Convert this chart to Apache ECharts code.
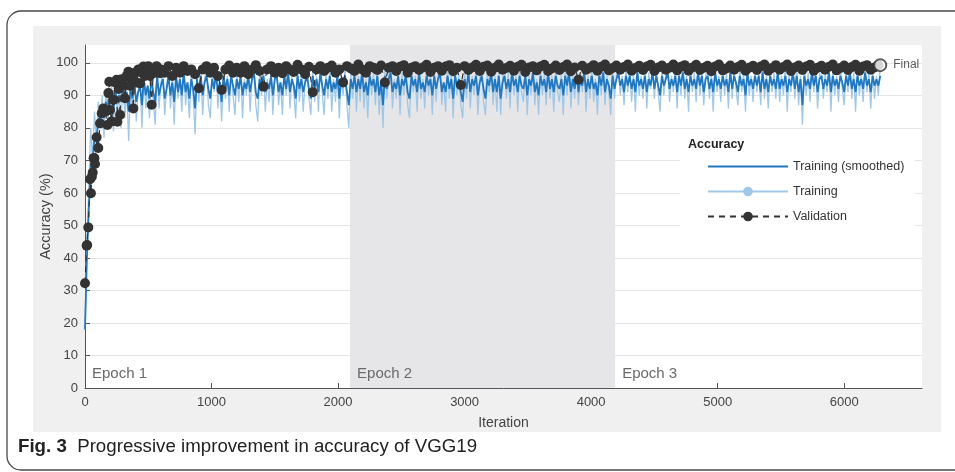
<!DOCTYPE html>
<html><head><meta charset="utf-8">
<script src="https://cdn.jsdelivr.net/npm/echarts@6/dist/echarts.min.js"></script>
<style>html,body{margin:0;padding:0;background:#fff}#c{width:955px;height:472px}</style>
</head><body><div id="c"></div>
<script>
// ---- data ----
const epochBounds = [0, 2095, 4190, 6285];
const epochLabels = ['Epoch 1', 'Epoch 2', 'Epoch 3'];
const xTicks = [0, 1000, 2000, 3000, 4000, 5000, 6000];
const yTicks = [0, 10, 20, 30, 40, 50, 60, 70, 80, 90, 100];
const trainStep = 15; // iterations between stored training samples

const trainAcc = [
  18, 45, 62, 80, 70, 85, 76, 88, 80, 90, 77, 92, 82, 89, 93, 79, 95, 84, 91, 80,
  96, 83, 92, 76, 94, 85, 97, 82, 91, 95, 80, 98, 86, 93, 83, 97, 88, 81, 99, 86,
  94, 97, 84, 92, 99, 86, 95, 81, 98, 89, 96, 85, 100, 87, 94, 83, 97, 90, 78, 96,
  88, 98, 84, 95, 99, 87, 83, 97, 91, 100, 86, 95, 82, 98, 89, 96, 85, 99, 90, 84,
  97, 88, 99, 83, 95, 90, 98, 85, 96, 100, 87, 82, 97, 90, 99, 85, 95, 88, 98, 84,
  96, 99, 87, 94, 84, 98, 90, 100, 86, 96, 91, 83, 99, 88, 97, 85, 95, 99, 89, 84,
  98, 88, 96, 85, 100, 91, 84, 97, 89, 99, 85, 95, 88, 98, 83, 96, 90, 99, 87, 80,
  97, 89, 99, 85, 96, 88, 100, 86, 95, 83, 98, 90, 97, 87, 99, 84, 94, 80, 98, 89,
  96, 100, 86, 95, 89, 98, 84, 97, 90, 99, 87, 83, 98, 91, 96, 85, 100, 89, 95, 86,
  99, 90, 97, 84, 98, 88, 96, 100, 87, 94, 85, 99, 89, 97, 83, 98, 90, 96, 87, 83,
  97, 89, 100, 86, 96, 90, 98, 84, 95, 99, 88, 84, 97, 91, 100, 87, 96, 85, 98, 84,
  95, 99, 89, 97, 86, 100, 90, 96, 85, 98, 91, 88, 99, 84, 96, 90, 100, 87, 95, 84,
  98, 90, 97, 87, 100, 89, 96, 85, 99, 91, 88, 97, 84, 98, 90, 100, 86, 96, 89, 99,
  87, 97, 91, 100, 85, 96, 89, 99, 88, 95, 84, 98, 90, 100, 87, 96, 91, 84, 99, 89,
  97, 100, 90, 96, 87, 99, 91, 98, 88, 97, 85, 100, 90, 96, 89, 99, 86, 97, 92, 100,
  89, 98, 91, 85, 99, 90, 97, 100, 88, 96, 91, 99, 86, 98, 90, 100, 89, 96, 85, 99,
  91, 97, 88, 100, 90, 98, 87, 96, 99, 89, 97, 85, 100, 91, 96, 88, 99, 90, 97, 86,
  100, 89, 98, 92, 87, 99, 91, 97, 85, 100, 90, 96, 88, 99, 91, 98, 87, 100, 89, 96,
  86, 99, 91, 97, 89, 100, 88, 96, 90, 99, 85, 97, 91, 100, 89, 98, 87, 96, 81, 99,
  90, 97, 88, 100, 91, 98, 86, 96, 99, 89, 97, 91, 100, 85, 98, 90, 96, 88, 99, 92,
  87, 98, 91, 100, 89, 97, 85, 99, 90, 96, 88, 100, 91, 97, 86, 98, 89, 96, 90, 99
];

const smoothAcc = [
  18, 40, 55, 68, 70, 77, 76, 82, 82, 86, 83, 88, 86, 88, 90, 86, 91, 89, 90, 88,
  92, 88, 91, 85, 92, 89, 94, 88, 91, 93, 87, 95, 90, 93, 89, 95, 91, 88, 96, 90,
  93, 95, 89, 92, 96, 90, 94, 88, 96, 91, 95, 90, 97, 91, 94, 89, 95, 92, 86, 95,
  91, 96, 90, 94, 96, 92, 89, 95, 92, 97, 91, 94, 88, 96, 92, 95, 90, 96, 93, 90,
  95, 92, 96, 90, 94, 92, 96, 91, 95, 97, 91, 89, 95, 93, 96, 91, 94, 92, 96, 90,
  95, 96, 91, 94, 90, 96, 92, 97, 91, 95, 93, 89, 96, 92, 95, 91, 94, 96, 92, 89,
  96, 92, 95, 91, 97, 93, 90, 95, 92, 96, 91, 94, 92, 96, 89, 95, 93, 96, 91, 87,
  95, 92, 96, 91, 95, 92, 97, 91, 94, 90, 96, 93, 95, 91, 96, 90, 94, 87, 96, 92,
  95, 97, 91, 94, 92, 96, 90, 95, 93, 96, 91, 89, 96, 93, 95, 91, 97, 92, 94, 91,
  96, 93, 95, 90, 96, 92, 95, 97, 91, 94, 91, 96, 92, 95, 89, 96, 93, 95, 91, 88,
  95, 92, 97, 91, 95, 93, 96, 90, 94, 96, 92, 89, 95, 93, 97, 91, 95, 91, 96, 89,
  94, 96, 92, 95, 91, 97, 93, 95, 91, 96, 93, 92, 96, 90, 95, 93, 97, 91, 94, 90,
  96, 93, 95, 91, 97, 92, 95, 91, 96, 93, 92, 95, 90, 96, 93, 97, 91, 95, 92, 96,
  91, 95, 93, 97, 91, 95, 92, 96, 92, 94, 90, 96, 93, 97, 91, 95, 93, 89, 96, 92,
  95, 97, 93, 95, 91, 96, 93, 96, 92, 95, 91, 97, 93, 95, 92, 96, 91, 95, 93, 97,
  92, 96, 93, 90, 96, 93, 95, 97, 92, 95, 93, 96, 91, 96, 93, 97, 92, 95, 91, 96,
  93, 95, 92, 97, 93, 96, 91, 95, 96, 92, 95, 91, 97, 93, 95, 92, 96, 93, 95, 91,
  97, 92, 96, 94, 91, 96, 93, 95, 90, 97, 93, 95, 92, 96, 93, 96, 91, 97, 92, 95,
  91, 96, 93, 95, 92, 97, 92, 95, 93, 96, 91, 95, 93, 97, 92, 96, 91, 95, 87, 96,
  93, 95, 92, 97, 93, 96, 91, 95, 96, 92, 95, 93, 97, 91, 96, 93, 95, 92, 96, 94,
  91, 96, 93, 97, 92, 95, 91, 96, 93, 95, 92, 97, 93, 95, 91, 96, 93, 95, 93, 96
];

const valEarlyIter = [
  0, 13, 17, 26, 40, 47, 54, 61, 68, 74, 79, 92, 105, 119, 132, 145, 160, 177, 185, 192,
  198, 210, 224, 237, 250, 256, 266, 277, 290, 303, 316, 330, 343, 356, 369, 382, 395, 408, 422, 435,
  448, 461, 474, 487, 500, 513, 527, 540, 553, 566, 580, 593
];
const valEarlyAcc = [
  32.2, 43.8, 44, 49.4, 64.2, 59.9, 65, 66.3, 70.7, 70.7, 68.9, 77.1, 73.8, 81.4, 84.5, 86, 85, 80.9, 90.7, 94.2,
  85.5, 82, 88.6, 94, 94.8, 81.9, 92, 84, 95, 93, 89.1, 96, 97.3, 93, 95, 86, 97, 94, 98, 93.7,
  97, 98.9, 96, 98, 99, 96, 87.1, 98, 97, 99, 98, 96.8
];
const valLateStart = 600, valLateStep = 30;
const valLateAcc = [
  98, 97, 99, 96, 98.5, 97, 99, 97.5, 98, 96.5, 92.2, 98, 99, 97, 98.5, 96, 91.7, 98, 99.2, 97,
  98.5, 97, 99, 96.5, 98, 99.3, 97.5, 92.7, 98, 99, 97, 98.5, 96.8, 99, 98, 97.2, 99.4, 98, 96.5, 98.8,
  91, 98, 99, 97.5, 98.5, 99.2, 97, 98, 94, 99, 98.3, 97.5, 99.5, 98, 97, 99, 98.5, 97.8, 99.2, 94,
  98.5, 99, 97.5, 98.8, 99.3, 97, 98.5, 99, 97.8, 98.6, 99.4, 97.2, 98.5, 99, 97.6, 98.9, 99.3, 97.4, 98.5, 93.2,
  99, 97.8, 98.6, 99.4, 97.5, 98.8, 99.2, 97.3, 98.5, 99.5, 97.9, 98.4, 99.1, 97.6, 98.8, 99.4, 97.2, 98.6, 99, 97.7,
  98.9, 99.4, 97.5, 98.3, 99.2, 97.8, 98.7, 99.5, 97.4, 98.6, 94.8, 99.1, 97.9, 98.5, 99.3, 97.6, 98.8, 99.5, 97.7, 98.4,
  99.2, 97.9, 98.7, 99.5, 97.6, 98.4, 99.1, 97.8, 98.9, 99.4, 97.5, 98.6, 99.2, 97.9, 98.5, 99.5, 97.7, 98.8, 99.3, 97.6,
  98.6, 99.4, 97.8, 98.5, 99.1, 97.4, 98.9, 99.5, 97.7, 98.3, 99.2, 97.9, 98.7, 99.4, 97.6, 98.5, 99.1, 97.8, 98.9, 99.5,
  97.6, 98.4, 99.3, 97.9, 98.7, 99.5, 97.5, 98.6, 99.2, 97.8, 98.9, 99.4, 97.6, 98.5, 99.1, 97.9, 98.8, 99.5, 97.7, 98.4,
  99.2, 97.8, 98.7, 99.4, 97.6, 98.9, 99.3, 97.9, 98.6, 99.3
];
const finalPoint = [6285, 99.3];

// ---- build series data ----
const trainData = trainAcc.map((v, i) => [i * trainStep, v]);
const smoothData = smoothAcc.map((v, i) => [i * trainStep, v]);
const valData = valEarlyIter.map((it, i) => [it, valEarlyAcc[i]])
  .concat(valLateAcc.map((v, i) => [valLateStart + i * valLateStep, v]));

const FONT = 'Liberation Sans, Arial, Helvetica, sans-serif';
const epochAreas = epochLabels.map((lab, i) => [
  { xAxis: epochBounds[i], name: lab,
    itemStyle: { color: i === 1 ? '#e6e6e8' : 'rgba(0,0,0,0)' },
    label: { show: true, formatter: lab } },
  { xAxis: epochBounds[i + 1] }
]);

const chart = echarts.init(document.getElementById('c'), null, { renderer: 'canvas' });
chart.setOption({
  animation: false,
  textStyle: { fontFamily: FONT },
  title: {
    text: 'Accuracy', left: 688, top: 138, padding: 0,
    textStyle: { fontSize: 12.5, fontWeight: 'bold', color: '#222', fontFamily: FONT }
  },
  legend: {
    orient: 'vertical', left: 680, top: 130,
    backgroundColor: '#ffffff', padding: [30, 10, 9, 27],
    itemWidth: 80, itemHeight: 12, itemGap: 12,
    selectedMode: false,
    textStyle: { fontSize: 12.5, color: '#333', fontFamily: FONT },
    data: [
      { name: 'Training (smoothed)', icon: 'path://M0,0H80V2H0Z' },
      'Training', 'Validation'
    ]
  },
  grid: {
    left: 85, right: 33, top: 45, bottom: 84,
    show: true, backgroundColor: '#ffffff', borderWidth: 0
  },
  xAxis: {
    type: 'value', min: 0, max: 6615, interval: 1000,
    name: 'Iteration', nameLocation: 'middle', nameGap: 28,
    nameTextStyle: { fontSize: 14, color: '#444', fontFamily: FONT },
    axisLine: { show: true, lineStyle: { color: '#555', width: 1 } },
    axisTick: { show: true, inside: true, length: 5, lineStyle: { color: '#555' }, customValues: xTicks },
    axisLabel: { fontSize: 13, color: '#444', margin: 8, customValues: xTicks, fontFamily: FONT,
      formatter: v => String(v) },
    splitLine: { show: false }
  },
  yAxis: {
    type: 'value', min: 0, max: 105.5, interval: 10,
    name: 'Accuracy (%)', nameLocation: 'middle', nameGap: 32, nameMoveOverlap: false,
    nameTextStyle: { fontSize: 14.5, color: '#444', fontFamily: FONT },
    axisLine: { show: true, lineStyle: { color: '#555', width: 1 } },
    axisTick: { show: true, inside: true, length: 5, lineStyle: { color: '#555' }, customValues: yTicks },
    axisLabel: { fontSize: 13, color: '#444', margin: 7, customValues: yTicks, fontFamily: FONT,
      formatter: v => String(v) },
    splitLine: { show: true, lineStyle: { color: yTicks.map(() => '#e4e4e4').concat(['rgba(0,0,0,0)']), width: 1 } }
  },
  graphic: [
    { type: 'rect', z: -100, silent: true, shape: { x: 33, y: 26, width: 908, height: 406 }, style: { fill: '#f0f0f0' } },
    { type: 'rect', z: 100, silent: true, shape: { x: 7, y: 11, width: 1000, height: 459, r: 14 },
      style: { fill: 'none', stroke: '#4a4a4a', lineWidth: 1.3 } },
    { type: 'text', z: 100, left: 18, top: 437, silent: true,
      style: { text: '{b|Fig. 3}  Progressive improvement in accuracy of VGG19',
        fontSize: 18.7, fill: '#222', fontFamily: FONT,
        rich: { b: { fontWeight: 'bold', fontSize: 18.7, fill: '#222', fontFamily: FONT } } } }
  ],
  series: [
    {
      name: 'epochs', type: 'line', data: [], z: 0, silent: true,
      markArea: {
        silent: true,
        label: { show: true, position: 'insideBottomLeft', distance: 7, fontSize: 15, color: '#6a6a6a', fontFamily: FONT },
        data: epochAreas
      }
    },
    {
      name: 'Training', type: 'line', data: trainData, z: 2,
      symbol: 'circle', showSymbol: false,
      itemStyle: { color: '#9fc7e7' },
      lineStyle: { color: '#9fc7e7', width: 1.3 }
    },
    {
      name: 'Training (smoothed)', type: 'line', data: smoothData, z: 3,
      symbol: 'none',
      itemStyle: { color: '#1f78c1' },
      lineStyle: { color: '#1f78c1', width: 1.8 }
    },
    {
      name: 'Validation', type: 'line', data: valData, z: 4,
      symbol: 'circle', symbolSize: 10, showSymbol: true, showAllSymbol: true,
      itemStyle: { color: '#333333' },
      lineStyle: { color: '#333333', width: 1.2, type: [6, 5] }
    },
    {
      name: 'Final', type: 'scatter', data: [finalPoint], z: 5,
      symbol: 'emptyCircle', symbolSize: 12,
      itemStyle: { color: '#333333', borderColor: '#333333', borderWidth: 1.5 },
      label: { show: true, position: 'right', distance: 6, formatter: 'Final', fontSize: 12, color: '#333', fontFamily: FONT }
    }
  ]
});
</script>
</body></html>
